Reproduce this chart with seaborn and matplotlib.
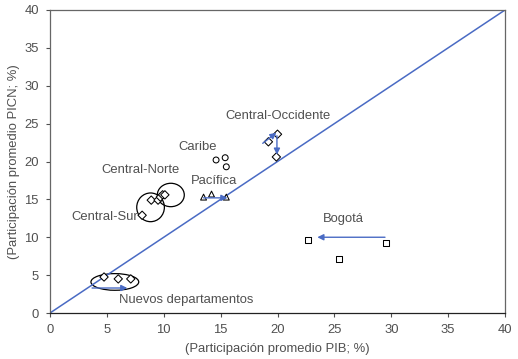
import pandas as pd
import seaborn as sns
import matplotlib.pyplot as plt
from matplotlib.patches import Ellipse

sns.set_style("white")
plt.rcParams['font.family'] = ['Liberation Sans', 'DejaVu Sans']

# data (x = PIB share, y = PICN share)
region = ["Bogotá"] * 3 + ["Central-Occidente"] * 3 + ["Caribe"] * 3 + \
         ["Pacífica"] * 3 + ["Central-Sur"] * 3 + ["Central-Norte"] * 3 + \
         ["Nuevos departamentos"] * 3
pib = [22.7, 29.5, 25.4,
       19.2, 20.0, 19.9,
       14.6, 15.4, 15.5,
       13.5, 14.2, 15.5,
       8.1, 8.9, 9.5,
       9.7, 9.9, 10.1,
       4.75, 6.0, 7.1]
picn = [9.6, 9.2, 7.1,
        22.6, 23.6, 20.6,
        20.2, 20.5, 19.3,
        15.3, 15.7, 15.3,
        12.9, 14.9, 14.9,
        15.3, 15.6, 15.6,
        4.75, 4.5, 4.5]
marker_of = {"Bogotá": "s", "Central-Occidente": "D", "Caribe": "o",
             "Pacífica": "^", "Central-Sur": "D", "Central-Norte": "D",
             "Nuevos departamentos": "D"}

# label positions (left edge, centre)
labels = ["Central-Occidente", "Caribe", "Central-Norte", "Pacífica",
          "Central-Sur", "Nuevos departamentos", "Bogotá"]
label_x = [15.4, 11.25, 4.5, 12.4, 1.9, 6.1, 24.0]
label_y = [26.0, 21.9, 18.9, 17.4, 12.7, 1.7, 12.4]

# arrows (start -> end)
arrows = [((29.45, 10.0), (23.5, 10.0)),
          ((18.7, 22.4), (19.9, 23.8)),
          ((19.95, 23.4), (19.95, 20.9)),
          ((13.5, 15.2), (15.6, 15.2)),
          ((3.7, 3.3), (6.8, 3.3))]

# ellipses (centre, width, height)
ellipses = [((8.84, 13.95), 2.43, 3.79),
            ((10.62, 15.58), 2.37, 3.09),
            ((5.7, 4.1), 4.2, 2.2)]

df = pd.DataFrame({"pib": pib, "picn": picn, "region": region})
blue = "#4a6bc4"
grey = "#505050"

fig, ax = plt.subplots(figsize=(5.18, 3.59), dpi=100)

sns.lineplot(x=[0, 40], y=[0, 40], ax=ax, color=blue, lw=1.1)
sns.scatterplot(data=df, x="pib", y="picn", style="region", markers=marker_of,
                ax=ax, s=18, color="white", edgecolor="black",
                linewidth=0.75, legend=False, zorder=3)

for (x0, y0), (x1, y1) in arrows:
    ax.annotate("", xy=(x1, y1), xytext=(x0, y0),
                arrowprops=dict(arrowstyle="-|>", color=blue, lw=1.0,
                                mutation_scale=9, shrinkA=0, shrinkB=0))

for (cx, cy), w, h in ellipses:
    ax.add_patch(Ellipse((cx, cy), w, h, fill=False, edgecolor="black", lw=0.9))

for t, x, y in zip(labels, label_x, label_y):
    ax.text(x, y, t, fontsize=9.4, color=grey, ha="left", va="center")

ax.set_xlim(0, 40)
ax.set_ylim(0, 40)
ax.set_xticks(range(0, 41, 5))
ax.set_yticks(range(0, 41, 5))
ax.tick_params(axis="both", direction="out", length=3, width=0.8, pad=5,
               labelsize=9.4, labelcolor=grey, color=grey, left=True, bottom=True)
for s in ax.spines.values():
    s.set_color("#666666")
    s.set_linewidth(0.9)
ax.spines["bottom"].set_color("#222222")

ax.set_xlabel("(Participación promedio PIB; %)", fontsize=9.4, color=grey,
              labelpad=5)
ax.set_ylabel("(Participación promedio PICN; %)", fontsize=9.4, color=grey,
              labelpad=3)

fig.subplots_adjust(left=50 / 518, right=505 / 518, bottom=1 - 313 / 359,
                    top=1 - 10 / 359)
fig.savefig("out.png", dpi=100)
